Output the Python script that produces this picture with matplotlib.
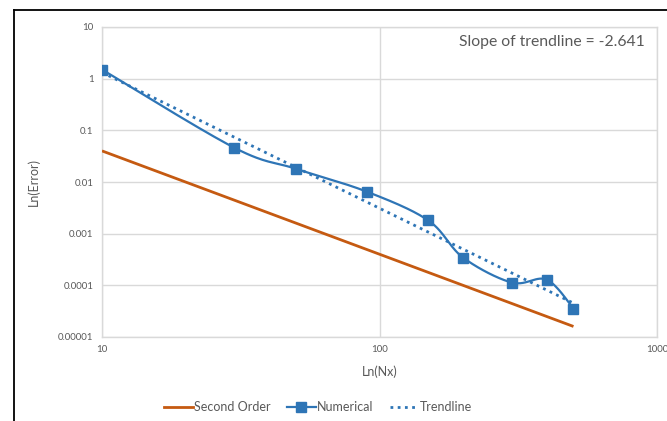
import numpy as np
import matplotlib
matplotlib.use("Agg")
import matplotlib.pyplot as plt
from matplotlib.lines import Line2D

plt.rcParams['font.family'] = ['Lato', 'DejaVu Sans']

# ---- data ----
nx = [10, 30, 50, 90, 150, 200, 300, 400, 500]
numerical = [1.5, 0.046, 0.018, 0.0065, 0.0018, 0.000345, 0.000113, 0.000129, 0.0000356]
second_order_x = [10, 500]
second_order = [0.04, 0.000016]
slope_text = "Slope of trendline = -2.641"
xticks = [10, 100, 1000]
xticklabels = ["10", "100", "1000"]
yticks = [1e-5, 1e-4, 1e-3, 1e-2, 1e-1, 1, 10]
yticklabels = ["0.00001", "0.0001", "0.001", "0.01", "0.1", "1", "10"]

BLUE = "#2E75B6"
ORANGE = "#C55A11"
GRID = "#D9D9D9"
TXT = "#595959"


def catmull_rom(xs, ys, n=30):
    # smooth curve through points (Excel-like smoothed line), in log space
    px = np.log10(xs)
    py = np.log10(ys)
    P = np.column_stack([px, py])
    P = np.vstack([P[0], P, P[-1]])
    out = []
    for i in range(1, len(P) - 2):
        p0, p1, p2, p3 = P[i - 1], P[i], P[i + 1], P[i + 2]
        t = np.linspace(0, 1, n)[:, None]
        seg = 0.5 * ((2 * p1) + (-p0 + p2) * t + (2 * p0 - 5 * p1 + 4 * p2 - p3) * t ** 2
                     + (-p0 + 3 * p1 - 3 * p2 + p3) * t ** 3)
        out.append(seg)
    out = np.vstack(out)
    return 10 ** out[:, 0], 10 ** out[:, 1]


fig = plt.figure(figsize=(6.67, 4.21), dpi=100)
# outer frame lines (top and left)
fig.add_artist(Line2D([14 / 667, 1], [1 - 9.5 / 421] * 2, color="black", lw=1.3, transform=fig.transFigure))
fig.add_artist(Line2D([14 / 667] * 2, [0, 1 - 9.5 / 421], color="black", lw=1.3, transform=fig.transFigure))

ax = fig.add_axes([102 / 667, 84 / 421, 555 / 667, 310 / 421])
ax.set_xscale("log")
ax.set_yscale("log")
ax.set_xlim(10, 1000)
ax.set_ylim(1e-5, 10)

ax.set_xticks(xticks)
ax.set_xticklabels(xticklabels)
ax.set_yticks(yticks)
ax.set_yticklabels(yticklabels)
ax.xaxis.set_minor_locator(matplotlib.ticker.NullLocator())
ax.yaxis.set_minor_locator(matplotlib.ticker.NullLocator())
ax.tick_params(length=0, labelsize=7, colors=TXT, pad=6)
ax.grid(True, color=GRID, lw=1)
for s in ax.spines.values():
    s.set_color(GRID)
    s.set_linewidth(1)

# second order
ax.plot(second_order_x, second_order, color=ORANGE, lw=2, solid_capstyle="butt", zorder=3)

# numerical smoothed
sx, sy = catmull_rom(nx, numerical)
ax.plot(sx, sy, color=BLUE, lw=1.6, zorder=4)
ax.plot(nx, numerical, ls="none", marker="s", ms=7.5, color=BLUE, zorder=5)

# trendline (power fit)
coef = np.polyfit(np.log10(nx), np.log10(numerical), 1)
tx = np.array([nx[0], nx[-1]])
ty = 10 ** np.polyval(coef, np.log10(tx))
ax.plot(tx, ty, color=BLUE, lw=2, ls=(0, (1, 1.6)), zorder=4)

ax.set_xlabel("Ln(Nx)", fontsize=9, color=TXT, labelpad=8)
ax.set_ylabel("Ln(Error)", fontsize=9, color=TXT, labelpad=13)

fig.text(645 / 667, 1 - 42 / 421, slope_text, ha="right", va="center", fontsize=11.3, color=TXT)

handles = [
    Line2D([], [], color=ORANGE, lw=2),
    Line2D([], [], color=BLUE, lw=1.6, marker="s", ms=7.5),
    Line2D([], [], color=BLUE, lw=2, ls=(0, (1, 1.6))),
]
fig.legend(handles, ["Second Order", "Numerical", "Trendline"], loc="center",
           bbox_to_anchor=(318 / 667, 14 / 421), ncol=3, frameon=False, fontsize=9,
           labelcolor=TXT, handlelength=2.3, handletextpad=0.1, columnspacing=1.3)

fig.savefig("out.png", dpi=100)
